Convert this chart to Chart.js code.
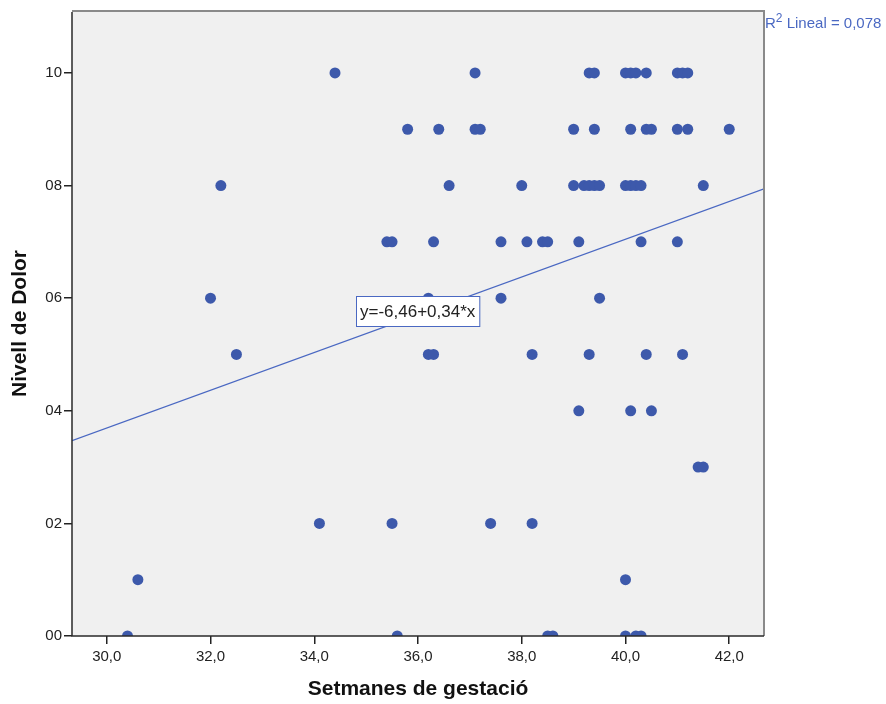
<!DOCTYPE html>
<html>
<head>
<meta charset="utf-8">
<script src="https://cdn.jsdelivr.net/npm/chart.js@4"></script>
<style>
html, body { margin: 0; padding: 0; background: #fff; }
</style>
</head>
<body>
<canvas id="Chart_1" width="886" height="704"></canvas>
<script>
// setmanes de gestació / nivell de dolor, llegits del gràfic
var weeks = [
    34.4, 37.1, 39.3, 39.4, 40.0, 40.1, 40.2, 40.4, 41.0, 41.1, 41.2,
    35.8, 36.4, 37.1, 37.2, 39.0, 39.4, 40.1, 40.4, 40.5, 41.0, 41.2, 42.0,
    32.2, 36.6, 38.0, 39.0, 39.2, 39.3, 39.4, 39.5, 40.0, 40.1, 40.2, 40.3, 41.5,
    35.4, 35.5, 36.3, 37.6, 38.1, 38.4, 38.5, 39.1, 40.3, 41.0,
    32.0, 36.2, 37.6, 39.5,
    32.5, 36.2, 36.3, 38.2, 39.3, 40.4, 41.1,
    39.1, 40.1, 40.5,
    41.4, 41.5,
    34.1, 35.5, 37.4, 38.2,
    30.6, 40.0,
    30.4, 35.6, 38.5, 38.6, 40.0, 40.2, 40.3
];
var pain = [
    10, 10, 10, 10, 10, 10, 10, 10, 10, 10, 10,
    9, 9, 9, 9, 9, 9, 9, 9, 9, 9, 9, 9,
    8, 8, 8, 8, 8, 8, 8, 8, 8, 8, 8, 8, 8,
    7, 7, 7, 7, 7, 7, 7, 7, 7, 7,
    6, 6, 6, 6,
    5, 5, 5, 5, 5, 5, 5,
    4, 4, 4,
    3, 3,
    2, 2, 2, 2,
    1, 1,
    0, 0, 0, 0, 0, 0, 0
];
// recta de regressió (extrems de l'eix X)
var fitX = [29.33, 42.67];
var fitY = [3.47, 7.94];

var xTicks = [30, 32, 34, 36, 38, 40, 42];
var xTickLabels = ['30,0', '32,0', '34,0', '36,0', '38,0', '40,0', '42,0'];
var yTicks = [0, 2, 4, 6, 8, 10];
var yTickLabels = ['00', '02', '04', '06', '08', '10'];

var xTitle = 'Setmanes de gestació';
var yTitle = 'Nivell de Dolor';
var fitLabel = 'y=-6,46+0,34*x';
var r2Value = '0,078';

var blue = '#3d59ab';
var lineBlue = '#4a68c2';

var points = weeks.map(function (w, i) { return { x: w, y: pain[i] }; });
var fitLine = fitX.map(function (x, i) { return { x: x, y: fitY[i] }; });

var plotFrame = {
    id: 'plotFrame',
    beforeDatasetsDraw: function (chart) {
        var a = chart.chartArea, c = chart.ctx;
        c.save();
        c.fillStyle = '#f0f0f0';
        c.fillRect(a.left, a.top, a.right - a.left, a.bottom - a.top);
        c.restore();
    },
    afterDatasetsDraw: function (chart) {
        var a = chart.chartArea, c = chart.ctx;
        c.save();
        // vores superior i dreta
        c.strokeStyle = '#8a8a8a';
        c.lineWidth = 2;
        c.beginPath();
        c.moveTo(a.left, a.top);
        c.lineTo(a.right, a.top);
        c.lineTo(a.right, a.bottom);
        c.stroke();
        // vores esquerra i inferior
        c.strokeStyle = '#2a2a2a';
        c.lineWidth = 1.5;
        c.beginPath();
        c.moveTo(a.left, a.top + 1);
        c.lineTo(a.left, a.bottom);
        c.lineTo(a.right, a.bottom);
        c.stroke();

        // caixa de l'equació
        c.font = '17px "Liberation Sans", Arial, sans-serif';
        var tw = c.measureText(fitLabel).width;
        var bx = 356, by = 296, bw = tw + 8, bh = 30;
        c.fillStyle = '#ffffff';
        c.fillRect(bx, by, bw, bh);
        c.strokeStyle = lineBlue;
        c.lineWidth = 1;
        c.strokeRect(bx + 0.5, by + 0.5, bw, bh);
        c.fillStyle = '#222';
        c.textBaseline = 'middle';
        c.fillText(fitLabel, bx + 4, by + bh / 2 + 1);

        // R2
        var rx = a.right + 1, ry = 28;
        c.fillStyle = lineBlue;
        c.textBaseline = 'alphabetic';
        c.font = '15px "Liberation Sans", Arial, sans-serif';
        c.fillText('R', rx, ry);
        var w1 = c.measureText('R').width;
        c.font = '12px "Liberation Sans", Arial, sans-serif';
        c.fillText('2', rx + w1, ry - 6);
        var w2 = c.measureText('2').width;
        c.font = '15px "Liberation Sans", Arial, sans-serif';
        c.fillText(' Lineal = ' + r2Value, rx + w1 + w2, ry);
        c.restore();
    }
};

var ctx = document.getElementById('Chart_1');
var chart = new Chart(ctx, {
    type: 'scatter',
    data: {
        datasets: [{
            type: 'line',
            label: 'fit',
            data: fitLine,
            borderColor: lineBlue,
            borderWidth: 1.3,
            pointRadius: 0,
            fill: false,
            clip: 0
        }, {
            label: 'Nivell de Dolor',
            data: points,
            backgroundColor: blue,
            borderWidth: 0,
            pointRadius: 5.5,
            pointHoverRadius: 5.5,
            clip: 0
        }]
    },
    options: {
        responsive: false,
        animation: false,
        devicePixelRatio: 1,
        layout: { padding: { top: 10, right: 122, left: 0, bottom: 0 } },
        plugins: {
            legend: { display: false },
            tooltip: { enabled: false }
        },
        scales: {
            x: {
                type: 'linear',
                min: 29.33,
                max: 42.67,
                afterBuildTicks: function (s) { s.ticks = xTicks.map(function (v) { return { value: v }; }); },
                afterFit: function (s) { s.height = 68; },
                border: { display: false },
                grid: { drawOnChartArea: false, drawTicks: true, tickLength: 8, color: '#222', lineWidth: 1.5 },
                ticks: {
                    autoSkip: false,
                    maxRotation: 0,
                    padding: 4,
                    color: '#222',
                    font: { family: '"Liberation Sans", Arial, sans-serif', size: 15 },
                    callback: function (v, i) { return xTickLabels[i]; }
                },
                title: {
                    display: true,
                    text: xTitle,
                    color: '#111',
                    font: { family: '"Liberation Sans", Arial, sans-serif', size: 21, weight: 'bold' },
                    padding: { top: 0, bottom: 2 }
                }
            },
            y: {
                min: 0,
                max: 11.1,
                afterBuildTicks: function (s) { s.ticks = yTicks.map(function (v) { return { value: v }; }); },
                afterFit: function (s) { s.width = 72; },
                border: { display: false },
                grid: { drawOnChartArea: false, drawTicks: true, tickLength: 8, color: '#222', lineWidth: 1.5 },
                ticks: {
                    autoSkip: false,
                    padding: 2,
                    color: '#222',
                    font: { family: '"Liberation Sans", Arial, sans-serif', size: 15 },
                    callback: function (v, i) { return yTickLabels[i]; }
                },
                title: {
                    display: true,
                    text: yTitle,
                    color: '#111',
                    font: { family: '"Liberation Sans", Arial, sans-serif', size: 21, weight: 'bold' },
                    padding: { top: 8, bottom: 0 }
                }
            }
        }
    },
    plugins: [plotFrame]
});
</script>
</body>
</html>
